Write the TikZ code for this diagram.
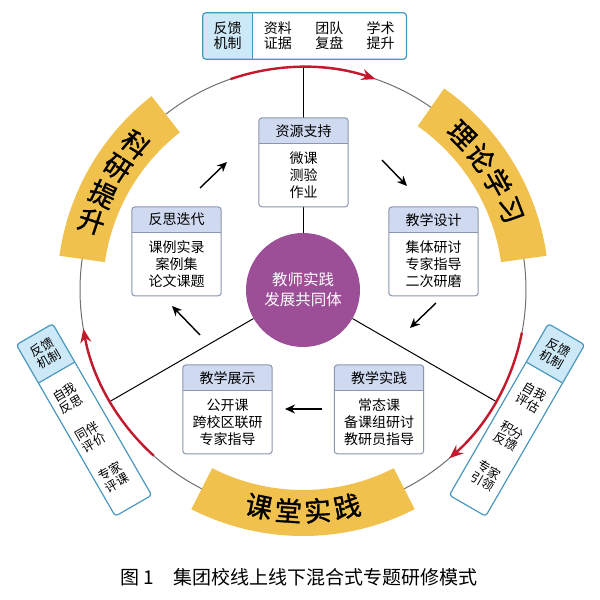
\documentclass[tikz,border=0pt]{standalone}
\usepackage{fontspec}
\setmainfont{Noto Sans CJK SC}
\newfontfamily\banfont[FakeBold=1.2]{Noto Sans CJK SC}
\usetikzlibrary{positioning,calc,arrows.meta}

\definecolor{bannerfill}{RGB}{241,193,78}
\definecolor{corepurple}{RGB}{156,78,151}
\definecolor{loopred}{RGB}{196,24,45}
\definecolor{ringgray}{RGB}{112,112,112}
\definecolor{boxline}{RGB}{138,150,175}
\definecolor{hdrfill}{RGB}{207,218,241}
\definecolor{fbline}{RGB}{74,152,190}
\definecolor{fbfill}{RGB}{205,232,246}

\newcommand{\stagebox}[4]{%
  \node[hdr, anchor=north] (#1) at (#2) {#3};
  \node[bdy, below=0pt of #1] (#1-b) {#4};
  \draw[boxframe] (#1.north west) rectangle (#1-b.south east);
  \draw[boxframe, sharp corners] (#1.south west) -- (#1.south east);
}

\begin{document}
\begin{tikzpicture}[x=1pt,y=1pt]
\tikzset{
  ring/.style={draw=ringgray, line width=1pt},
  spoke/.style={draw=black, line width=1pt},
  banner/.style={fill=bannerfill},
  bantext/.style={inner sep=0pt, font=\banfont\fontsize{27}{27}\selectfont},
  loop arc/.style={draw=loopred, line width=2.4pt, -{Stealth[length=14pt,width=11pt]}},
  core/.style={circle, fill=corepurple, minimum size=114pt, inner sep=0pt, align=center, text=white, font=\fontsize{15.5}{20}\selectfont},
  hdr/.style={fill=hdrfill, rounded corners=2pt, minimum width=89pt, minimum height=25pt, inner sep=0pt, font=\fontsize{14}{16}\selectfont},
  bdy/.style={fill=white, rounded corners=2pt, minimum width=89pt, minimum height=63pt, inner sep=0pt, align=center, font=\fontsize{14}{17}\selectfont},
  boxframe/.style={draw=boxline, line width=1pt, rounded corners=3pt},
  flow/.style={draw=black, line width=1.4pt, -{Stealth[length=10pt,width=9pt]}},
  fbhead/.style={fill=fbfill, rounded corners=2pt, minimum width=49pt, minimum height=46pt, inner sep=0pt, align=center, font=\fontsize{14}{15}\selectfont},
  fbcell/.style={minimum width=51pt, minimum height=46pt, inner sep=0pt, align=center, font=\fontsize{14}{15}\selectfont},
  fbframe/.style={draw=fbline, line width=1.2pt, rounded corners=3pt},
  sidehead/.style={fill=fbfill, rounded corners=2pt, minimum width=42pt, minimum height=44pt, inner sep=0pt, align=center, font=\fontsize{12.5}{13.5}\selectfont},
  sidetext/.style={inner sep=0pt, align=center, font=\fontsize{12.5}{13.5}\selectfont},
  sideframe/.style={draw=fbline, line width=1.2pt, rounded corners=3pt, minimum width=42pt, minimum height=198pt, inner sep=0pt}
}
\path[use as bounding box, fill=white] (0,0) rectangle (600,600);
\coordinate (C) at (303,310);

% ring and spokes
\draw[ring] (C) circle[radius=223];
\node[core] (core) at (C) {教师实践\\发展共同体};
\coordinate (rtop) at ($(C)+(90:223)$);
\coordinate (rleft) at ($(C)+(210:223)$);
\coordinate (rright) at ($(C)+(330:223)$);
\draw[spoke] (core) -- (rtop);
\draw[spoke] (core) -- (rleft);
\draw[spoke] (core) -- (rright);

% banners
\fill[banner] ($(C)+(128:200)$) arc[start angle=128, end angle=172, radius=200] -- ($(C)+(172:246)$) arc[start angle=172, end angle=128, radius=246] -- cycle;
\fill[banner] ($(C)+(8:200)$) arc[start angle=8, end angle=55, radius=200] -- ($(C)+(55:246)$) arc[start angle=55, end angle=8, radius=246] -- cycle;
\fill[banner] ($(C)+(243:200)$) arc[start angle=243, end angle=297, radius=200] -- ($(C)+(297:246)$) arc[start angle=297, end angle=243, radius=246] -- cycle;
\foreach \ch/\ang [count=\i] in {科/139,研/146.7,提/154.4,升/162}
  \node[bantext, rotate=\ang-180] (ky\i) at ($(C)+(\ang:222)$) {\ch};
\foreach \ch/\ang [count=\i] in {理/44.3,论/36.6,学/28.9,习/21.2}
  \node[bantext, rotate=\ang-90] (ll\i) at ($(C)+(\ang:222)$) {\ch};
\foreach \ch/\ang [count=\i] in {课/258.5,堂/266.2,实/273.8,践/281.5}
  \node[bantext, rotate=\ang+90] (kt\i) at ($(C)+(\ang:221)$) {\ch};

% feedback loops
\draw[loop arc] ($(C)+(109:223)$) arc[start angle=109, end angle=71, radius=223];
\draw[loop arc] ($(C)+(228:223)$) arc[start angle=228, end angle=190, radius=223];
\draw[loop arc] ($(C)+(-11:223)$) arc[start angle=-11, end angle=-49, radius=223];

% stages
\stagebox{zy}{303.5,482}{资源支持}{微课\\测验\\作业}
\stagebox{fs}{176.5,393}{反思迭代}{课例实录\\案例集\\论文课题}
\stagebox{sj}{433.5,393}{教学设计}{集体研讨\\专家指导\\二次研磨}
\stagebox{zs}{227.5,235}{教学展示}{公开课\\跨校区联研\\专家指导}
\stagebox{sp}{379,235}{教学实践}{常态课\\备课组研讨\\教研员指导}

\coordinate (f1s) at (200,412); \coordinate (f1e) at (227,438);
\coordinate (f2s) at (382,440); \coordinate (f2e) at (407,414);
\coordinate (f3s) at (436,297); \coordinate (f3e) at (410,272);
\coordinate (f4s) at (322,191); \coordinate (f4e) at (285,191);
\coordinate (f5s) at (200,265); \coordinate (f5e) at (172,294);
\foreach \k in {1,...,5}
  \draw[flow] (f\k s) -- (f\k e);

% feedback boxes
\node[fbhead] (fbt) at (227.5,564) {反馈\\机制};
\node[fbcell, right=0pt of fbt] (fbt1) {资料\\证据};
\node[fbcell, right=0pt of fbt1] (fbt2) {团队\\复盘};
\node[fbcell, right=0pt of fbt2] (fbt3) {学术\\提升};
\draw[fbframe] (fbt.north west) rectangle (fbt3.south east);
\draw[fbframe, sharp corners] (fbt.north east) -- (fbt.south east);

\begin{scope}[shift={(84,180)}, rotate=30, transform shape]
  \node[sidehead] (lfh) at (0,77) {反馈\\机制};
  \node[sideframe] (lfb) at (0,0) {};
  \node[sidetext] (lft1) at (-3,27) {自我\\反思};
  \node[sidetext] (lft2) at (-3,-18) {同伴\\评价};
  \node[sidetext] (lft3) at (-3,-64) {专家\\评课};
  \draw[fbframe, sharp corners] (lfh.south west) -- (lfh.south east);
\end{scope}
\begin{scope}[shift={(517,180)}, rotate=-30, transform shape]
  \node[sidehead] (rfh) at (0,77) {反馈\\机制};
  \node[sideframe] (rfb) at (0,0) {};
  \node[sidetext] (rft1) at (1,27) {自我\\评估};
  \node[sidetext] (rft2) at (1,-18) {积分\\反馈};
  \node[sidetext] (rft3) at (1,-64) {专家\\引领};
  \draw[fbframe, sharp corners] (rfh.south west) -- (rfh.south east);
\end{scope}

\node[font=\fontsize{19}{19}\selectfont] (cap) at (299,23) {图 1\hspace{1em}集团校线上线下混合式专题研修模式};
\end{tikzpicture}
\end{document}
